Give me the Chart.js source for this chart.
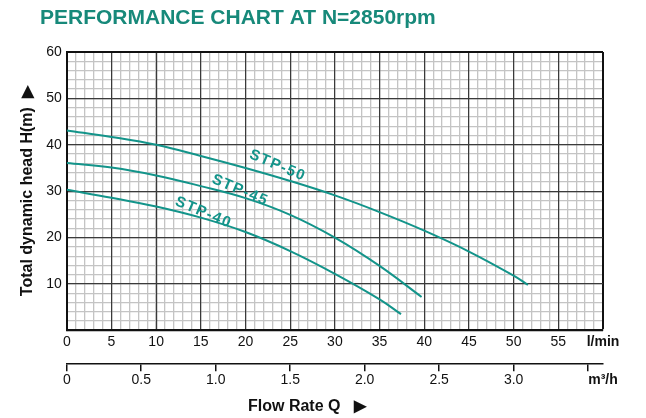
<!DOCTYPE html>
<html>
<head>
<meta charset="utf-8">
<script src="https://cdn.jsdelivr.net/npm/chart.js@4.4.1/dist/chart.umd.min.js"></script>
<style>
  html, body { margin: 0; padding: 0; background: #fff; }
  #wrap { width: 646px; height: 418px; position: relative; }
</style>
</head>
<body>
<div id="wrap"><canvas id="perfChart"></canvas></div>
<script>
// curve data, flow in l/min, head in m
const curveNames = ["STP-50", "STP-45", "STP-40"];
const flowStp50 = [0, 5, 10, 15, 20, 25, 30, 35, 40, 45, 50, 51.6];
const headStp50 = [43.1, 41.7, 40.0, 37.6, 35.0, 32.2, 29.1, 25.5, 21.5, 17.0, 11.8, 9.8];
const flowStp45 = [0, 5, 10, 15, 20, 25, 30, 35, 39.7];
const headStp45 = [36.1, 35.1, 33.4, 31.1, 28.5, 24.9, 20.0, 13.9, 7.2];
const flowStp40 = [0, 5, 10, 15, 20, 25, 30, 35, 37.4];
const headStp40 = [30.3, 28.6, 26.7, 24.3, 21.2, 17.1, 12.2, 6.7, 3.5];

// axis ticks
const lpmTicks = [0, 5, 10, 15, 20, 25, 30, 35, 40, 45, 50, 55, 60];
const m3hTicks = [0, 0.5, 1.0, 1.5, 2.0, 2.5, 3.0, 3.5];
const headTicks = [0, 10, 20, 30, 40, 50, 60];

const TEAL = "#13948a";
const FONT = "'Liberation Sans', Arial, sans-serif";
const LPM_MAX = 60;
const M3H_MAX = 3.6;

const toPoints = (xs, ys) => xs.map((x, i) => ({ x: x, y: ys[i] }));

// where the curve names sit (data units)
const curveTags = [
  { flow: 23.6, head: 35.5 },
  { flow: 19.4, head: 30.2 },
  { flow: 15.3, head: 25.4 }
];

const textPlugin = {
  id: "textPlugin",
  afterDraw(chart) {
    const c = chart.ctx;
    const sx = chart.scales.x;
    const sy = chart.scales.y;
    c.save();
    // header
    c.fillStyle = "#17897a";
    c.font = "bold 21px " + FONT;
    c.textAlign = "left";
    c.textBaseline = "alphabetic";
    c.fillText("PERFORMANCE CHART AT N=2850rpm", 40, 24);

    // curve names
    c.font = "bold 15px " + FONT;
    c.fillStyle = TEAL;
    c.textAlign = "center";
    c.textBaseline = "middle";
    c.letterSpacing = "1.5px";
    curveTags.forEach((t, i) => {
      c.save();
      c.translate(sx.getPixelForValue(t.flow), sy.getPixelForValue(t.head));
      c.rotate(23 * Math.PI / 180);
      c.fillText(curveNames[i], 0, 0);
      c.restore();
    });
    c.letterSpacing = "0px";

    // x title
    c.fillStyle = "#111";
    c.font = "bold 16px " + FONT;
    c.textAlign = "left";
    c.textBaseline = "middle";
    c.fillText("Flow Rate Q", 248, 407);
    c.fillText("\u25B6", 354, 407);
    c.restore();
  }
};

const majorColor = ctx => (ctx.tick && ctx.tick.value === 60 ? "#111" : "#3a3a3a");
const majorWidth = ctx => (ctx.tick && ctx.tick.value === 60 ? 2 : 1.2);

const ctx = document.getElementById("perfChart");

const perfChart = new Chart(ctx, {
  type: "scatter",
  data: {
    datasets: [
      { label: curveNames[0], data: toPoints(flowStp50, headStp50) },
      { label: curveNames[1], data: toPoints(flowStp45, headStp45) },
      { label: curveNames[2], data: toPoints(flowStp40, headStp40) }
    ].map(ds => Object.assign(ds, {
      showLine: true,
      borderColor: TEAL,
      backgroundColor: TEAL,
      borderWidth: 2,
      pointRadius: 0,
      tension: 0.4
    }))
  },
  options: {
    responsive: true,
    maintainAspectRatio: false,
    animation: false,
    layout: {
      padding: { top: 52, right: 43, bottom: 28, left: 18 }
    },
    plugins: {
      legend: { display: false },
      tooltip: { enabled: false }
    },
    scales: {
      // minor grid, drawn first
      xm: {
        type: "linear",
        position: "bottom",
        min: 0,
        max: LPM_MAX,
        ticks: { display: false, stepSize: 1 },
        grid: { color: "#c4c4c4", lineWidth: 1.3, drawTicks: false, z: -2 },
        border: { display: false }
      },
      ym: {
        type: "linear",
        position: "left",
        min: 0,
        max: 60,
        ticks: { display: false, stepSize: 2 },
        grid: { color: "#c4c4c4", lineWidth: 1.3, drawTicks: false, z: -2 },
        border: { display: false }
      },
      x: {
        type: "linear",
        position: "bottom",
        min: 0,
        max: LPM_MAX,
        afterBuildTicks: scale => {
          scale.ticks = lpmTicks.map(v => ({ value: v }));
        },
        afterFit: scale => {
          scale.height += 11;
        },
        ticks: {
          autoSkip: false,
          maxRotation: 0,
          padding: 3,
          color: "#111",
          font: c => ({ family: FONT, size: 14, weight: c.tick && c.tick.value === 60 ? "bold" : "normal" }),
          callback: v => (v === 60 ? "l/min" : v)
        },
        grid: { color: majorColor, lineWidth: majorWidth, drawTicks: false },
        border: { color: "#111", width: 2 }
      },
      x2: {
        type: "linear",
        position: "bottom",
        min: 0,
        max: M3H_MAX,
        afterBuildTicks: scale => {
          scale.ticks = m3hTicks.concat([M3H_MAX]).map(v => ({ value: v }));
        },
        ticks: {
          autoSkip: false,
          maxRotation: 0,
          padding: 1,
          color: "#111",
          font: c => ({ family: FONT, size: 14, weight: c.tick && c.tick.value === M3H_MAX ? "bold" : "normal" }),
          callback: v => {
            if (v === M3H_MAX) return "m\u00B3/h";
            if (v === 3.5) return "";
            return v === 0 ? "0" : v.toFixed(1);
          }
        },
        grid: {
          drawOnChartArea: false,
          drawTicks: true,
          tickLength: 7,
          lineWidth: 1.5,
          tickColor: c => (c.tick && c.tick.value === M3H_MAX ? "rgba(0,0,0,0)" : "#111")
        },
        border: { color: "#111", width: 1.5 }
      },
      y: {
        type: "linear",
        position: "left",
        min: 0,
        max: 60,
        afterBuildTicks: scale => {
          scale.ticks = headTicks.map(v => ({ value: v }));
        },
        ticks: {
          padding: 5,
          color: "#111",
          font: { family: FONT, size: 14 },
          callback: v => (v === 0 ? "" : v)
        },
        grid: { color: majorColor, lineWidth: majorWidth, drawTicks: false },
        border: { color: "#111", width: 2 },
        title: {
          display: true,
          text: "Total dynamic head H(m)  \u25B6",
          color: "#111",
          font: { family: FONT, size: 16, weight: "bold" },
          padding: { top: 0, bottom: 4 }
        }
      }
    }
  },
  plugins: [textPlugin]
});
</script>
</body>
</html>
